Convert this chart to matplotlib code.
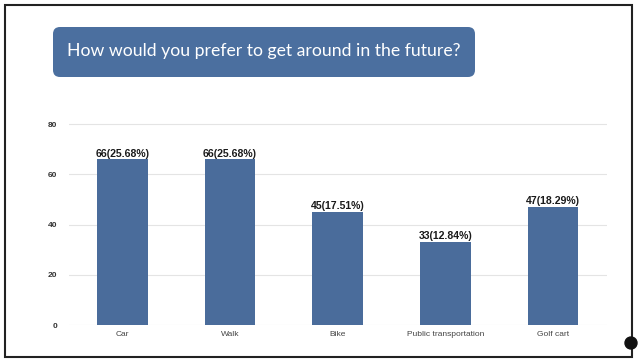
import matplotlib
matplotlib.use("Agg")
import matplotlib.pyplot as plt
from matplotlib.patches import FancyBboxPatch, Rectangle, Circle

categories = ["Car", "Walk", "Bike", "Public transportation", "Golf cart"]
counts = [66, 66, 45, 33, 47]
percents = ["25.68%", "25.68%", "17.51%", "12.84%", "18.29%"]
yticks = [0, 20, 40, 60, 80]
title = "How would you prefer to get around in the future?"

W, H = 638, 364
fig = plt.figure(figsize=(W / 100, H / 100), dpi=100)
fig.patch.set_facecolor("white")

# background / decoration axes in pixel coordinates
bg = fig.add_axes([0, 0, 1, 1], zorder=0)
bg.set_xlim(0, W)
bg.set_ylim(H, 0)
bg.axis("off")
bg.add_patch(Rectangle((5, 5), 627, 352, fill=False, edgecolor="#222222", lw=1.5))
bg.add_patch(FancyBboxPatch((53, 27), 422, 50, boxstyle="round,pad=0,rounding_size=7",
                            facecolor="#4b6f9f", edgecolor="none"))
bg.text(264, 51, title, color="white", fontsize=12.7, family="Lato",
        ha="center", va="center")
bg.add_patch(Circle((631, 343), 6, color="#111111"))

# chart axes
left, right = 68.6, 607
bottom_px, top_px = 325, 104
ymax = (bottom_px - top_px) / 2.51
ax = fig.add_axes([left / W, (H - bottom_px) / H, (right - left) / W, (bottom_px - top_px) / H],
                  zorder=1)
ax.patch.set_alpha(0)
x = range(len(categories))
bars = ax.bar(x, counts, width=0.47, color="#4a6c9b", zorder=2)
for xi, c, p in zip(x, counts, percents):
    ax.text(xi, c + 0.3, f"{c}({p})", ha="center", va="bottom", fontsize=7.6,
            fontweight="bold", family="Liberation Sans", color="#1a1a1a")
ax.set_xlim(-0.5, len(categories) - 0.5)
ax.set_ylim(0, ymax)
ax.set_yticks(yticks)
ax.set_yticklabels([str(t) for t in yticks], fontsize=6, family="Liberation Sans",
                   fontweight="bold", color="#333333")
ax.set_xticks(list(x))
ax.set_xticklabels(categories, fontsize=6, family="Liberation Sans", color="#444444")
ax.tick_params(length=0, pad=4)
ax.tick_params(axis="y", pad=8)
ax.grid(axis="y", color="#e4e4e4", lw=0.8, zorder=0)
for s in ax.spines.values():
    s.set_visible(False)

fig.savefig("out.png", dpi=100)
